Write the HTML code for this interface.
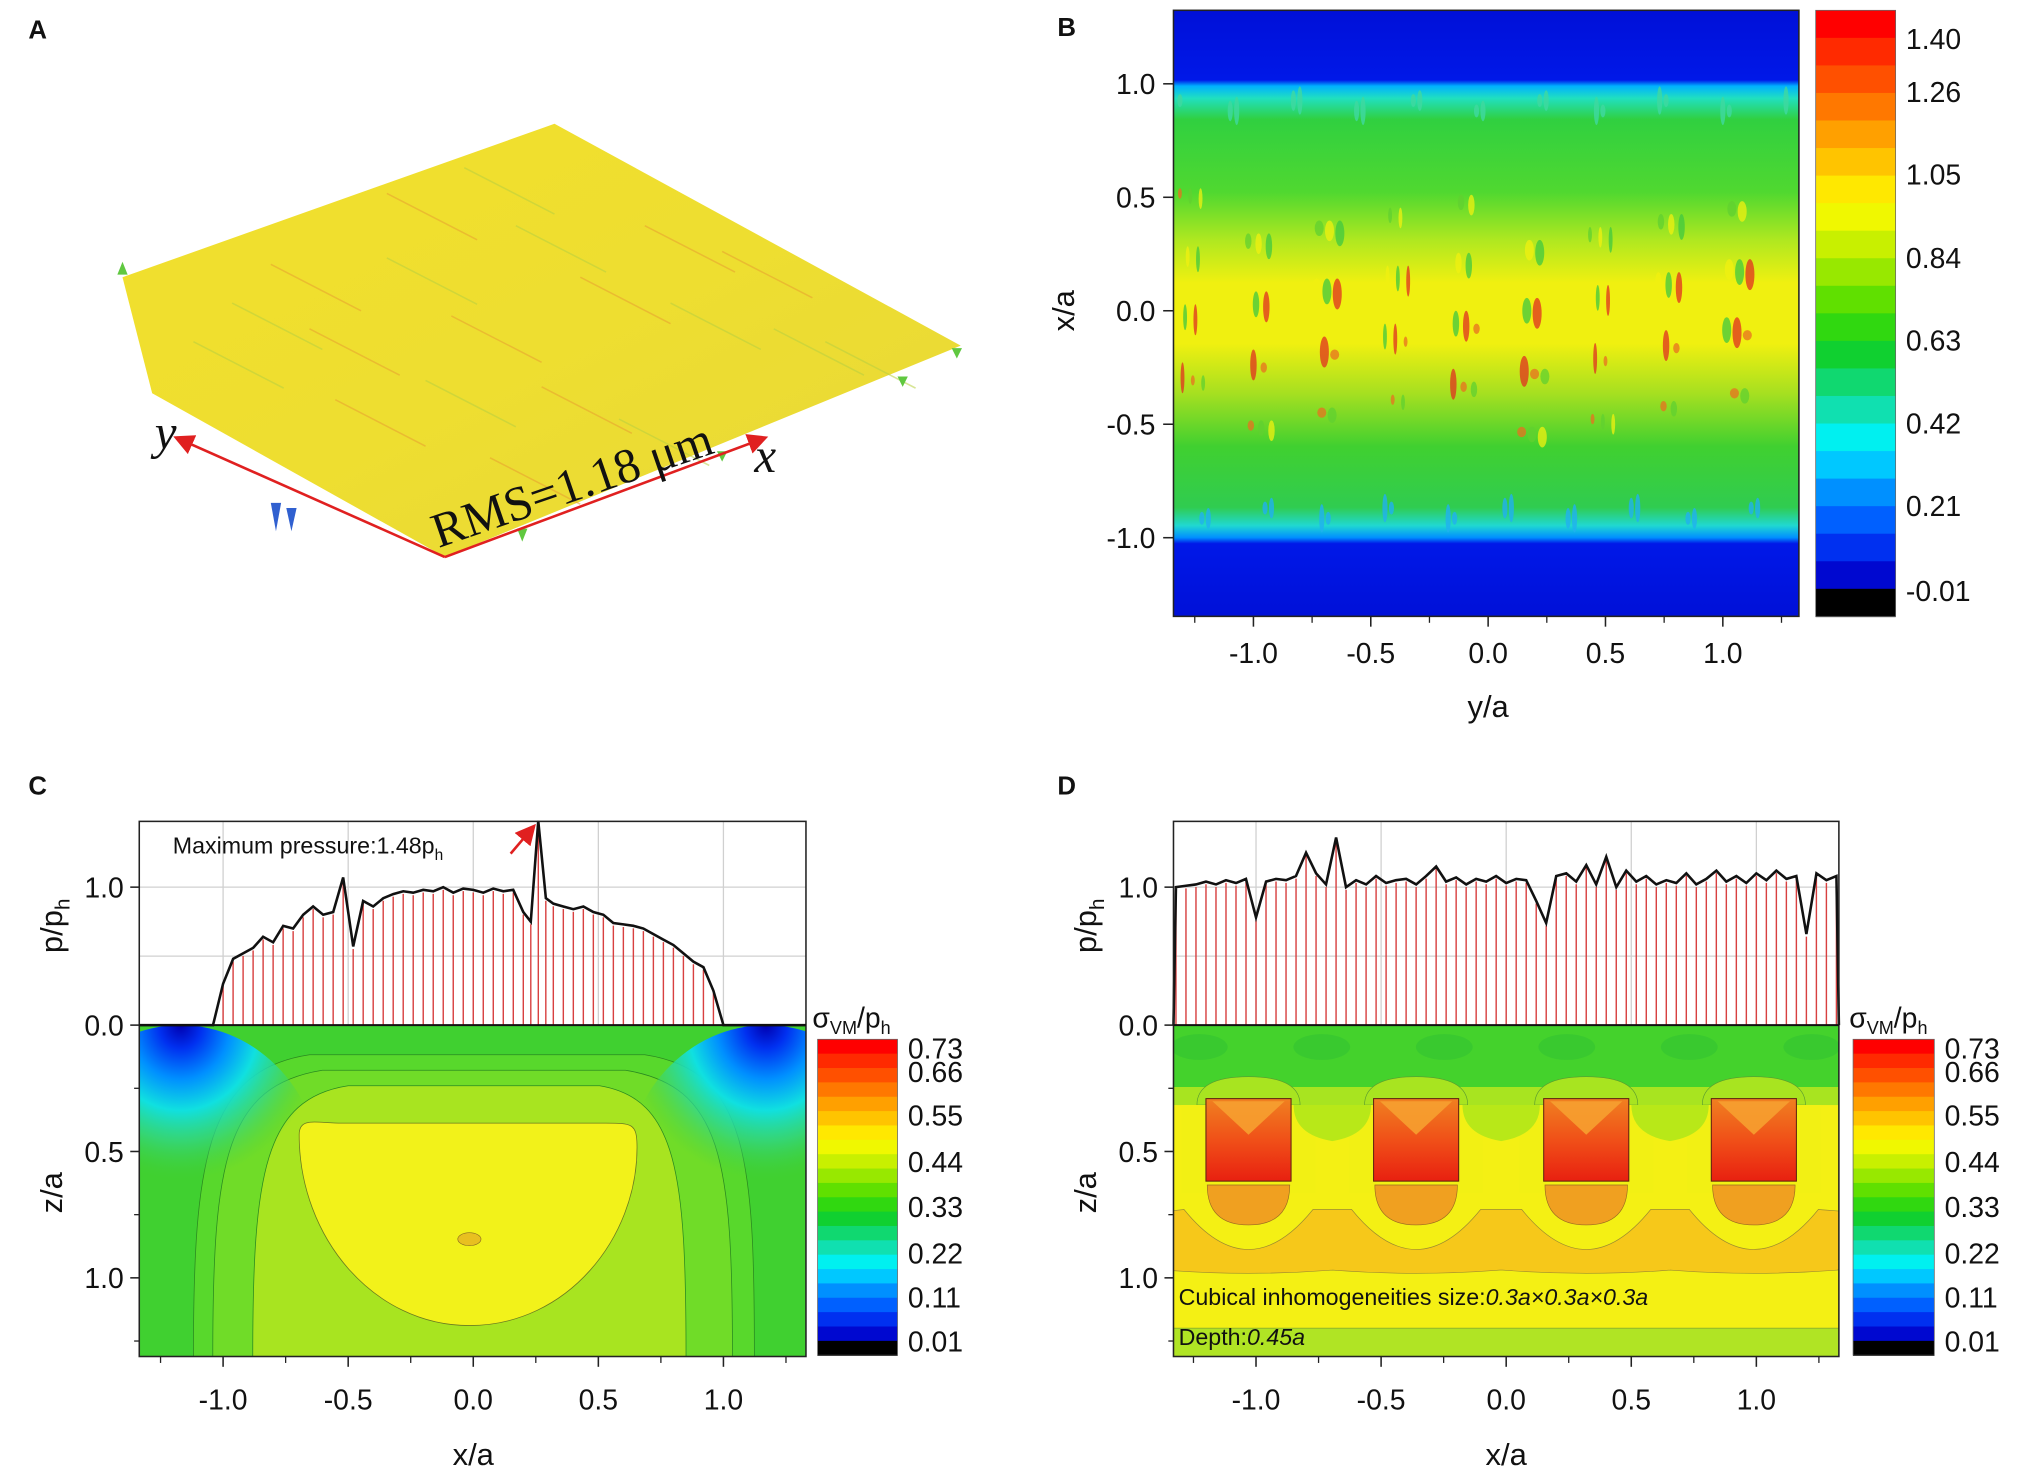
<!DOCTYPE html>
<html><head><meta charset="utf-8"><title>Contact pressure and stress figure</title>
<style>
html,body{margin:0;padding:0;background:#fff;}
svg{display:block;}
text{font-family:"Liberation Sans",sans-serif;fill:#111;}
</style></head>
<body>
<svg id="fig" xmlns="http://www.w3.org/2000/svg" width="2022" height="1479" viewBox="0 0 1568 1147" preserveAspectRatio="none">
<defs>
  <clipPath id="clipC"><rect x="108" y="795" width="517" height="257"/></clipPath>
  <clipPath id="clipD"><rect x="910" y="795" width="516" height="257"/></clipPath>
  <linearGradient id="bGrad" x1="0" y1="0" x2="0" y2="1">
    <stop offset="0" stop-color="#0010d8"/>
    <stop offset="0.115" stop-color="#0018e8"/>
    <stop offset="0.125" stop-color="#00b0ff"/>
    <stop offset="0.145" stop-color="#20e0c0"/>
    <stop offset="0.18" stop-color="#30d040"/>
    <stop offset="0.30" stop-color="#50d830"/>
    <stop offset="0.38" stop-color="#b0e820"/>
    <stop offset="0.45" stop-color="#f0f010"/>
    <stop offset="0.55" stop-color="#f0f010"/>
    <stop offset="0.63" stop-color="#a8e020"/>
    <stop offset="0.72" stop-color="#40d030"/>
    <stop offset="0.82" stop-color="#30cc50"/>
    <stop offset="0.85" stop-color="#20d8d0"/>
    <stop offset="0.87" stop-color="#0090ff"/>
    <stop offset="0.88" stop-color="#0018e8"/>
    <stop offset="1" stop-color="#0010d8"/>
  </linearGradient>
  <radialGradient id="cornerL" cx="0.5" cy="0" r="0.5">
    <stop offset="0" stop-color="#0000b0"/>
    <stop offset="0.15" stop-color="#0030f0"/>
    <stop offset="0.35" stop-color="#0090ff"/>
    <stop offset="0.55" stop-color="#10e0e0"/>
    <stop offset="0.75" stop-color="#30d890" stop-opacity="0.7"/>
    <stop offset="1" stop-color="#40d040" stop-opacity="0"/>
  </radialGradient>
  <linearGradient id="sqGrad" x1="0" y1="0" x2="0" y2="1">
    <stop offset="0" stop-color="#f08020"/>
    <stop offset="0.5" stop-color="#f05018"/>
    <stop offset="1" stop-color="#e82010"/>
  </linearGradient>
  <linearGradient id="aGrad" x1="0" y1="0" x2="1" y2="1">
    <stop offset="0" stop-color="#f2e02c"/>
    <stop offset="0.5" stop-color="#eede30"/>
    <stop offset="1" stop-color="#e8d838"/>
  </linearGradient>
  <marker id="arr" markerWidth="8" markerHeight="8" refX="6" refY="4" orient="auto">
    <path d="M0,0 L8,4 L0,8 z" fill="#e02020"/>
  </marker>
</defs>

<text x="22" y="30" font-size="20" font-weight="bold">A</text>
<text x="820" y="28" font-size="20" font-weight="bold">B</text>
<text x="22" y="616" font-size="20" font-weight="bold">C</text>
<text x="820" y="616" font-size="20" font-weight="bold">D</text>

<!-- Panel A -->
<g>
  <polygon points="95,215 430,96 745,268 345,432 118,305" fill="url(#aGrad)"/>
  <g id="aStreaks"></g>
  <line x1="345" y1="432" x2="138" y2="340" stroke="#e02020" stroke-width="2" marker-end="url(#arr)"/>
  <line x1="345" y1="432" x2="592" y2="340" stroke="#e02020" stroke-width="2" marker-end="url(#arr)"/>
  <text x="120" y="348" font-style="italic" font-size="38" style="font-family:'Liberation Serif',serif">y</text>
  <text x="585" y="366" font-style="italic" font-size="38" style="font-family:'Liberation Serif',serif">x</text>
  <text x="0" y="0" transform="translate(340,425) rotate(-19)" font-size="38" style="font-family:'Liberation Serif',serif">RMS=1.18 μm</text>
</g>

<!-- Panel B -->
<g>
  <rect x="910" y="8" width="485" height="470" fill="url(#bGrad)"/>
  <g id="bSpeck"></g>
  <rect x="910" y="8" width="485" height="470" fill="none" stroke="#222" stroke-width="1.2"/>
  <g id="bAxes"></g>
  <g id="bBar"></g>
  <text transform="translate(833,241) rotate(-90)" text-anchor="middle" font-size="24">x/a</text>
  <text x="1154" y="556" text-anchor="middle" font-size="24">y/a</text>
</g>

<!-- Panel C -->
<g>
  <g clip-path="url(#clipC)">
  <rect x="108" y="795" width="517" height="257" fill="#40d030"/>
  <path d="M150,1052 C150,900 160,830 240,818 L500,818 C580,830 585,900 585,1052 Z" fill="#58d82c" stroke="#2a8a20" stroke-width="0.6"/>
  <path d="M165,1052 C165,900 175,842 250,830 L485,830 C560,842 568,900 568,1052 Z" fill="#70dc28" stroke="#2a8a20" stroke-width="0.6"/>
  <path d="M196,1052 C196,910 205,852 270,842 L465,842 C525,852 532,910 532,1052 Z" fill="#a8e420" stroke="#2a8a20" stroke-width="0.6"/>
  <path d="M232,880 C232,866 245,871 265,871 L465,871 C490,871 494,870 494,890 C494,960 440,1028 364,1028 C290,1028 232,960 232,880 Z" fill="#f2f21a" stroke="#6a7a20" stroke-width="0.6"/>
  <ellipse cx="364" cy="961" rx="9" ry="5" fill="#e8c020" stroke="#8a6a20" stroke-width="0.5"/>
  <ellipse cx="140" cy="915" rx="110" ry="120" fill="url(#cornerL)"/>
  <ellipse cx="594" cy="915" rx="110" ry="120" fill="url(#cornerL)"/>
  </g>
  <g id="cPressure"></g>
  <rect x="108" y="637" width="517" height="415" fill="none" stroke="#222" stroke-width="1.2"/>
  <line x1="108" y1="795" x2="625" y2="795" stroke="#111" stroke-width="1.5"/>
  <g id="cAxes"></g>
  <text x="134" y="662" font-size="18">Maximum pressure:1.48p<tspan font-size="12" dy="5">h</tspan></text>
  <line x1="396" y1="662" x2="413" y2="642" stroke="#e02020" stroke-width="2" marker-end="url(#arr)"/>
  <g id="cBar"></g>
  <text x="630" y="797" font-size="22">σ<tspan font-size="14" dy="5">VM</tspan><tspan dy="-5">/p</tspan><tspan font-size="14" dy="5">h</tspan></text>
  <text transform="translate(48,718) rotate(-90)" text-anchor="middle" font-size="24">p/p<tspan font-size="16" dy="6">h</tspan></text>
  <text transform="translate(48,925) rotate(-90)" text-anchor="middle" font-size="24">z/a</text>
  <text x="367" y="1136" text-anchor="middle" font-size="24">x/a</text>
</g>

<!-- Panel D -->
<g>
  <g clip-path="url(#clipD)">
  <rect x="910" y="795" width="516" height="257" fill="#f4f014"/>
  <rect x="910" y="795" width="516" height="55" fill="#44d22c"/>
  <rect x="910" y="843" width="516" height="14" fill="#a8e420"/>
  <g id="dLayers"></g>
  <rect x="910" y="1030" width="516" height="22" fill="#b0e424" stroke="#7a9a30" stroke-width="0.5"/>
  </g>
  <text x="914" y="1012" font-size="18">Cubical inhomogeneities size:<tspan font-style="italic">0.3a×0.3a×0.3a</tspan></text>
  <text x="914" y="1043" font-size="18">Depth:<tspan font-style="italic">0.45a</tspan></text>
  <g id="dPressure"></g>
  <rect x="910" y="637" width="516" height="415" fill="none" stroke="#222" stroke-width="1.2"/>
  <line x1="910" y1="795" x2="1426" y2="795" stroke="#111" stroke-width="1.5"/>
  <g id="dAxes"></g>
  <g id="dBar"></g>
  <text x="1434" y="797" font-size="22">σ<tspan font-size="14" dy="5">VM</tspan><tspan dy="-5">/p</tspan><tspan font-size="14" dy="5">h</tspan></text>
  <text transform="translate(850,718) rotate(-90)" text-anchor="middle" font-size="24">p/p<tspan font-size="16" dy="6">h</tspan></text>
  <text transform="translate(850,925) rotate(-90)" text-anchor="middle" font-size="24">z/a</text>
  <text x="1168" y="1136" text-anchor="middle" font-size="24">x/a</text>
</g>
</svg>

<script>
const cXs = [-1.04,-1.00,-0.96,-0.92,-0.88,-0.84,-0.80,-0.76,-0.72,-0.68,-0.64,-0.60,-0.56,-0.52,-0.48,-0.44,-0.40,-0.36,-0.32,-0.28,-0.24,-0.20,-0.16,-0.12,-0.08,-0.04,0.00,0.04,0.08,0.12,0.16,0.20,0.23,0.26,0.29,0.32,0.36,0.40,0.44,0.48,0.52,0.56,0.60,0.64,0.68,0.72,0.76,0.80,0.84,0.88,0.92,0.96,1.00];
const cP  = [0.00,0.30,0.48,0.52,0.56,0.64,0.60,0.72,0.70,0.80,0.86,0.80,0.82,1.07,0.57,0.90,0.86,0.92,0.95,0.97,0.96,0.98,0.97,1.00,0.96,0.99,0.98,0.96,0.99,0.97,0.98,0.82,0.75,1.48,0.92,0.88,0.86,0.84,0.86,0.82,0.80,0.74,0.73,0.72,0.70,0.66,0.62,0.58,0.52,0.46,0.42,0.25,0.00];
const dXs = [-1.32,-1.28,-1.24,-1.20,-1.16,-1.12,-1.08,-1.04,-1.00,-0.96,-0.92,-0.88,-0.84,-0.80,-0.76,-0.72,-0.68,-0.64,-0.60,-0.56,-0.52,-0.48,-0.44,-0.40,-0.36,-0.32,-0.28,-0.24,-0.20,-0.16,-0.12,-0.08,-0.04,0.00,0.04,0.08,0.12,0.16,0.20,0.24,0.28,0.32,0.36,0.40,0.44,0.48,0.52,0.56,0.60,0.64,0.68,0.72,0.76,0.80,0.84,0.88,0.92,0.96,1.00,1.04,1.08,1.12,1.16,1.20,1.24,1.28,1.32];
const dP  = [1.00,1.01,1.02,1.04,1.02,1.05,1.03,1.06,0.78,1.04,1.06,1.05,1.08,1.25,1.10,1.02,1.36,1.00,1.05,1.02,1.08,1.03,1.05,1.06,1.02,1.08,1.15,1.04,1.07,1.02,1.06,1.04,1.08,1.03,1.06,1.05,0.90,0.74,1.08,1.10,1.04,1.16,1.02,1.22,1.00,1.12,1.04,1.08,1.02,1.05,1.03,1.10,1.02,1.06,1.12,1.04,1.08,1.03,1.10,1.05,1.12,1.06,1.08,0.66,1.10,1.05,1.08];
const cubeCenters = [-1.03,-0.36,0.32,0.99];
const xTickLabels = ["-1.0","-0.5","0.0","0.5","1.0"];
const xTickValues = [-1.0,-0.5,0.0,0.5,1.0];
const bYTickValues = [1.0,0.5,0.0,-0.5,-1.0];
const bYTickLabels = ["1.0","0.5","0.0","-0.5","-1.0"];
const bBarLabels = ["1.40","1.26","1.05","0.84","0.63","0.42","0.21","-0.01"];
const stressBarLabels = ["0.73","0.66","0.55","0.44","0.33","0.22","0.11","0.01"];
const pTickValues = [0.0,1.0];
const pTickLabels = ["0.0","1.0"];
const zTickValues = [0.5,1.0];
const zTickLabels = ["0.5","1.0"];

const NS = "http://www.w3.org/2000/svg";
function xC(v){return 367 + v*194;}
function xD(v){return 1168 + v*194;}
function yP(v){return 795 - v*107;}
function zY(v){return 795 + v*196;}
function xB(v){return 1154 + v*182;}
function yB(v){return 241 - v*176;}
function mk(tag, attrs, parent){
  const e = document.createElementNS(NS, tag);
  for (const k in attrs) e.setAttribute(k, attrs[k]);
  parent.appendChild(e);
  return e;
}
const palette = ["#ff0000","#ff2a00","#ff5000","#ff7800","#ffa000","#ffc400","#ffe800","#f0f800","#c8f000","#98e800","#60e000","#30d810","#10d030","#10d870","#10e0b0","#00f0f0","#00c8ff","#0090ff","#0060ff","#0030f0","#0008d0","#000000"];

function colorbar(g, x, y0, y1, w, labels, labelYs){
  const n = palette.length;
  const hb = (y1-y0)/n;
  palette.forEach((c,i)=>{
    const r = mk("rect",{x:x,y:y0+i*hb,width:w,height:hb+0.6,fill:c},g);
    
    
  });
  mk("rect",{x:x,y:y0,width:w,height:y1-y0,fill:"none",stroke:"#666","stroke-width":0.6},g);
  labels.forEach((t,i)=>{
    const tx = mk("text",{x:x+w+8,y:labelYs[i]+8,"font-size":22},g);
    tx.textContent = t;
    
    
  });
}

(function(){
  const g = document.getElementById('aStreaks');
  const pts = [[180,235],[240,255],[300,200],[350,245],[400,175],[450,215],[520,235],[560,195],[600,255],[260,310],[330,295],[420,300],[480,325],[210,205],[150,265],[380,355],[640,265],[300,150],[360,130],[500,175]];
  pts.forEach((p,i)=>{
    const l = mk("line",{x1:p[0],y1:p[1],x2:p[0]+70,y2:p[1]+36,stroke:(i%2?"#e8a030":"#b8d040"),"stroke-width":1.2,opacity:0.55},g);
    
    
  });
  const spikes = [[95,213,-10],[214,390,22],[226,394,18],[405,410,10],[560,350,8],[700,292,8],[742,270,8]];
  spikes.forEach((p,i)=>{
    const blue = (i==1||i==2);
    const s = mk("path",{d:`M${p[0]-4},${p[1]} L${p[0]},${p[1]+p[2]} L${p[0]+4},${p[1]} Z`,fill:blue?"#3060d0":"#60c840"},g);
    
    
  });
})();

(function(){
  const g = document.getElementById('bSpeck');
  const cols = ["#e87020","#60d030","#f0f010","#40c840","#e03020"];
  for (let i=0;i<90;i++){
    const x = 915 + ((i*53)%475);
    const y = 150 + ((i*37)%190);
    const e = mk("ellipse",{cx:x,cy:y,rx:1.5+(i%3),ry:4+(i%5)*2,fill:cols[i%5],opacity:0.75},g);
    
    
  }
  for (let i=0;i<40;i++){
    const x = 915 + ((i*71)%475);
    const y = (i%2? 390 : 78) + (i%4)*4;
    const e = mk("ellipse",{cx:x,cy:y,rx:2,ry:5+(i%3)*3,fill:(i%2?"#20b0f0":"#40d8a0"),opacity:0.8},g);
    
    
  }
  const ax = document.getElementById('bAxes');
  xTickValues.forEach((v,i)=>{
    const t = mk("line",{x1:xB(v),y1:478,x2:xB(v),y2:486,stroke:"#222","stroke-width":1.2},ax);
    
    
    const tx = mk("text",{x:xB(v),y:514,"text-anchor":"middle","font-size":22},ax);
    tx.textContent = xTickLabels[i];
    
    
    const m = mk("line",{x1:xB(v+0.25),y1:478,x2:xB(v+0.25),y2:483,stroke:"#222","stroke-width":1},ax);
    
    
  });
  const m0 = mk("line",{x1:xB(-1.25),y1:478,x2:xB(-1.25),y2:483,stroke:"#222","stroke-width":1},ax);
  
  
  bYTickValues.forEach((v,i)=>{
    const t = mk("line",{x1:902,y1:yB(v),x2:910,y2:yB(v),stroke:"#222","stroke-width":1.2},ax);
    
    
    const tx = mk("text",{x:896,y:yB(v)+8,"text-anchor":"end","font-size":22},ax);
    tx.textContent = bYTickLabels[i];
    
    
  });
  colorbar(document.getElementById('bBar'),1408,8,478,62,bBarLabels,[30,71,135,200,264,328,392,458]);
})();

function pressure(gid, xs, ps, xf, left, right){
  const g = document.getElementById(gid);
  xTickValues.forEach(v=>{
    const l = mk("line",{x1:xf(v),y1:637,x2:xf(v),y2:795,stroke:"#d0d0d0","stroke-width":1},g);
    
    
  });
  [0.5,1.0].forEach(v=>{
    const l = mk("line",{x1:left,y1:yP(v),x2:right,y2:yP(v),stroke:"#d0d0d0","stroke-width":1},g);
    
    
  });
  xs.forEach((x,i)=>{
    if (ps[i] <= 0) return;
    const b = mk("line",{x1:xf(x),y1:795,x2:xf(x),y2:yP(ps[i])+2,stroke:"#d84040","stroke-width":1.1},g);
    
    
  });
  let d = "";
  if (xf(xs[0]) > left+1) d += `M${left},795 L`; else d += "M";
  d += xs.map((x,i)=>`${xf(x).toFixed(1)},${yP(ps[i]).toFixed(1)}`).join(" L");
  if (xf(xs[xs.length-1]) < right-1) d += ` L${right},795`;
  const p = mk("path",{d:d,fill:"none",stroke:"#111","stroke-width":2},g);
  
  
}
pressure('cPressure', cXs, cP, xC, 108, 625);
pressure('dPressure', dXs, dP, xD, 910, 1426);

function axes(gid, xf, left, right){
  const g = document.getElementById(gid);
  xTickValues.forEach((v,i)=>{
    const t = mk("line",{x1:xf(v),y1:1052,x2:xf(v),y2:1060,stroke:"#222","stroke-width":1.2},g);
    
    
    const tx = mk("text",{x:xf(v),y:1093,"text-anchor":"middle","font-size":22},g);
    tx.textContent = xTickLabels[i];
    
    
  });
  [-1.25,-0.75,-0.25,0.25,0.75,1.25].forEach(v=>{
    const t = mk("line",{x1:xf(v),y1:1052,x2:xf(v),y2:1057,stroke:"#222","stroke-width":1},g);
    
    
  });
  pTickValues.forEach((v,i)=>{
    const t = mk("line",{x1:left-7,y1:yP(v),x2:left,y2:yP(v),stroke:"#222","stroke-width":1.2},g);
    
    
    const tx = mk("text",{x:left-12,y:yP(v)+8,"text-anchor":"end","font-size":22},g);
    tx.textContent = pTickLabels[i];
    
    
  });
  zTickValues.forEach((v,i)=>{
    const t = mk("line",{x1:left-7,y1:zY(v),x2:left,y2:zY(v),stroke:"#222","stroke-width":1.2},g);
    
    
    const tx = mk("text",{x:left-12,y:zY(v)+8,"text-anchor":"end","font-size":22},g);
    tx.textContent = zTickLabels[i];
    
    
  });
  [0.25,0.75,1.25].forEach(v=>{
    const t = mk("line",{x1:left-4,y1:zY(v),x2:left,y2:zY(v),stroke:"#222","stroke-width":1},g);
    
    
  });
}
axes('cAxes', xC, 108, 625);
axes('dAxes', xD, 910, 1426);

(function(){
  const g = document.getElementById('dLayers');
  let d = "M900,940 ";
  cubeCenters.forEach(c=>{ const x=xD(c); d += `L${x-50},938 Q${x},1000 ${x+50},938 `; });
  d += "L1436,940 L1436,972 ";
  for (let i=cubeCenters.length-1;i>=0;i--){ const x=xD(cubeCenters[i]); d += `L${x+65},985 Q${x},990 ${x-65},985 `; }
  d += "L900,972 Z";
  const band = mk("path",{d:d,fill:"#f6c81a",stroke:"#9a8a30","stroke-width":0.5},g);
  
  
  cubeCenters.forEach(c=>{
    const x = xD(c);
    const lobe = mk("path",{d:`M${x-40},857 Q${x-40},835 ${x},835 Q${x+40},835 ${x+40},857 Z`,fill:"#a8e420",stroke:"#5a9a30","stroke-width":0.5},g);
    
    
    const ye = mk("path",{d:`M${x-52},857 L${x+52},857 L${x+52},925 L${x-52},925 Z`,fill:"#f2f014"},g);
    
    
    const half = mk("path",{d:`M${x-32},919 L${x+32},919 Q${x+32},950 ${x},950 Q${x-32},950 ${x-32},919 Z`,fill:"#f0a020",stroke:"#9a6a20","stroke-width":0.5},g);
    
    
    const sq = mk("rect",{x:x-33,y:852,width:66,height:64,fill:"url(#sqGrad)",stroke:"#602010","stroke-width":0.8},g);
    
    
    const v = mk("path",{d:`M${x-28},854 L${x+28},854 L${x},880 Z`,fill:"#f6a030",opacity:0.9},g);
    
    
  });
  for (let i=0;i<cubeCenters.length-1;i++){
    const x = (xD(cubeCenters[i])+xD(cubeCenters[i+1]))/2;
    const l = mk("path",{d:`M${x-30},857 L${x+30},857 Q${x+30},880 ${x},885 Q${x-30},880 ${x-30},857 Z`,fill:"#b8e818"},g);
    
    
  }
  for (let i=0;i<6;i++){
    const x = 930 + i*95;
    const b = mk("ellipse",{cx:x,cy:812,rx:22,ry:10,fill:"#38c830",opacity:0.9},g);
    
    
  }
  colorbar(document.getElementById('dBar'),1437,806,1051,63,stressBarLabels,[813,831,865,901,936,972,1006,1040]);
  colorbar(document.getElementById('cBar'),634,806,1051,62,stressBarLabels,[813,831,865,901,936,972,1006,1040]);
})();
</script>
</body></html>
